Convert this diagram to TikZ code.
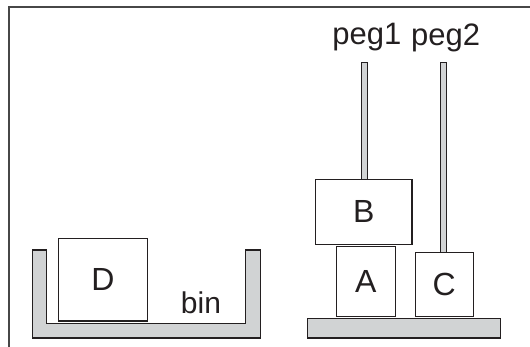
\documentclass[tikz,border=0pt]{standalone}
\usepackage{fontspec}
\setmainfont{Liberation Sans}
\definecolor{pegfill}{HTML}{D1D3D4}
\definecolor{framecol}{HTML}{474747}
\definecolor{edge}{HTML}{231F20}
\begin{document}
\begin{tikzpicture}[x=1pt,y=-1pt,
  blockbox/.style={draw=edge,line width=1.2pt,fill=white,inner sep=0pt,anchor=south west,
    font=\fontsize{32}{32}\selectfont,text=edge},
  graypart/.style={draw=edge,line width=1.1pt,fill=pegfill},
  pegrod/.style={draw=edge,line width=1pt,fill=pegfill},
  bintext/.style={font=\fontsize{30}{30}\selectfont,text=edge},
  pegtext/.style={font=\fontsize{31}{31}\selectfont,text=edge}]
\useasboundingbox (0,0) rectangle (530,347);
% frame
\draw[framecol,line width=2pt] (8.5,347) -- (8.5,7) -- (530,7);
% bin
\draw[graypart] (32.8,250) -- (46.3,250) -- (46.3,323.5) -- (245.8,323.5) -- (245.8,250) -- (260.6,250) -- (260.6,338) -- (32.8,338) -- cycle;
\node[blockbox,minimum width=89pt,minimum height=82.5pt] (D) at (57.8,321.5) {D};
\node[bintext] (bin) at (201,303) {bin};
% pegs
\draw[pegrod] (361,62.9) rectangle (367.8,181);
\draw[pegrod] (440,62.9) rectangle (446,253.5);
% base
\node[graypart,minimum width=193.4pt,minimum height=19.6pt,inner sep=0pt,anchor=north west] (base) at (306.6,317.8) {};
% blocks
\node[blockbox,minimum width=58.8pt,minimum height=70.2pt] (A) at (335.7,317) {A};
\node[blockbox,minimum width=96.4pt,minimum height=65pt] (B) at (315,245) {B};
\node[blockbox,minimum width=58.1pt,minimum height=64.1pt] (C) at (414.5,317) {C};
% labels
\node[pegtext] (peg1) at (366.8,37.5) {peg1};
\node[pegtext] (peg2) at (445.6,37.5) {peg2};
\end{tikzpicture}
\end{document}
